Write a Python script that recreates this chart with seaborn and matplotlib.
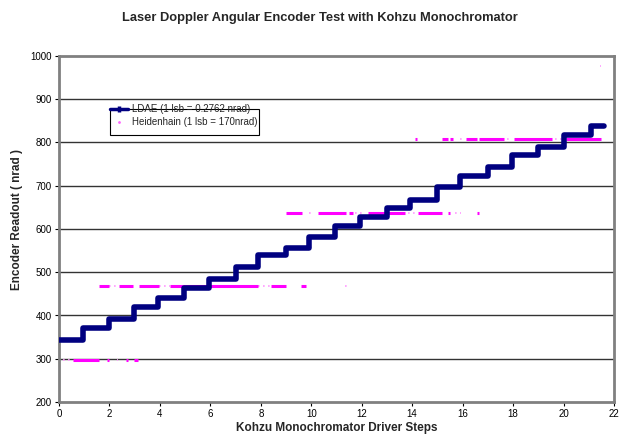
import matplotlib
matplotlib.use("Agg")
import matplotlib.pyplot as plt
from matplotlib.lines import Line2D
from matplotlib.patches import Rectangle
import seaborn as sns
import pandas as pd

# ---- data ----
ldae_steps = [0, 0.95, 1.98, 2.97, 3.92, 4.95, 5.94, 7.0, 7.9, 8.98, 9.9, 10.96,
              11.95, 13.0, 13.9, 15.0, 15.9, 17.0, 17.96, 19.0, 20.0, 21.1, 21.6]
ldae_levels = [343, 371, 392, 420, 440, 463, 484, 512, 540, 556, 582, 606,
               628, 649, 667, 697, 722, 744, 771, 790, 817, 838, 838]

# Heidenhain readings: solid runs (start, end, level)
heid_dense_start = [0.55, 1.92, 2.65, 2.97, 1.58, 2.37, 3.17, 4.4, 8.4, 9.58,
                    8.98, 10.25, 11.5, 12.23, 14.25, 15.4, 16.58,
                    14.13, 15.2, 15.5, 16.15, 16.66, 18.05, 20.1]
heid_dense_end = [1.6, 2.0, 2.75, 3.15, 1.97, 2.93, 3.96, 7.87, 8.98, 9.8,
                  9.62, 11.36, 11.67, 13.73, 15.2, 15.5, 16.66,
                  14.2, 15.4, 15.6, 16.58, 17.65, 19.55, 21.5]
heid_dense_level = [298, 298, 298, 298, 468, 468, 468, 468, 468, 468,
                    638, 638, 638, 638, 638, 638, 638,
                    808, 808, 808, 808, 808, 808, 808]
# sparse readings
heid_sparse_start = [0.15, 2.3, 2.0, 3.96, 7.87, 11.35, 9.9, 11.75, 13.85, 15.7,
                     15.9, 17.75, 19.65, 21.45]
heid_sparse_end = [0.55, 2.35, 2.3, 4.4, 8.4, 11.45, 10.1, 12.1, 14.1, 15.95,
                   16.05, 17.95, 19.95, 21.5]
heid_sparse_level = [298, 298, 468, 468, 468, 468, 638, 638, 638, 638,
                     808, 808, 808, 978]

x_ticks = list(range(0, 23, 2))
y_ticks = list(range(200, 1001, 100))

title = "Laser Doppler Angular Encoder Test with Kohzu Monochromator"
x_label = "Kohzu Monochromator Driver Steps"
y_label = "Encoder Readout ( nrad )"
ldae_name = "LDAE (1 lsb = 0.2762 nrad)"
heid_name = "Heidenhain (1 lsb = 170nrad)"

# ---- build frames ----
ldae_df = pd.DataFrame({"x": ldae_steps, "y": ldae_levels})

# ---- plot ----
sns.set_theme(style="white")
plt.rcParams["font.family"] = ["Liberation Sans", "DejaVu Sans"]

fig = plt.figure(figsize=(6.2, 4.36), dpi=100)
ax = fig.add_axes([59 / 620, 1 - 402 / 436, 555 / 620, 346 / 436])

for yv in y_ticks[1:-1]:
    ax.axhline(yv, color="#333333", lw=1.0, zorder=0)

ax.hlines(heid_sparse_level, heid_sparse_start, heid_sparse_end,
          colors="#ff99ff", lw=1.2, linestyles=(0, (1, 2)), zorder=2)
ax.hlines(heid_dense_level, heid_dense_start, heid_dense_end,
          colors="#ff00ff", lw=2.2, zorder=2)
sns.lineplot(data=ldae_df, x="x", y="y", estimator=None, sort=False,
             drawstyle="steps-post", color="#000080", lw=4.0, ax=ax,
             legend=False, zorder=3)

ax.set_xlim(0, 22)
ax.set_ylim(200, 1000)
ax.set_xticks(x_ticks)
ax.set_yticks(y_ticks)
ax.tick_params(axis="both", labelsize=7, length=3, width=0.8,
               direction="out", pad=2, colors="black")
ax.tick_params(left=True, bottom=True)
for sp in ax.spines.values():
    sp.set_color("#808080")
    sp.set_linewidth(2)

ax.set_title(title, fontsize=9.3, fontweight="bold", pad=25,
             x=(320 - 59) / 555)
ax.set_xlabel(x_label, fontsize=8.5, fontweight="bold", labelpad=2)
ax.set_ylabel(y_label, fontsize=8.5, fontweight="bold", labelpad=6)
ax.yaxis.set_label_coords(-0.064, (402 - 219) / 346)

# legend box (drawn as in the reference, its top edge running through row 1)
ax.add_patch(Rectangle(((110 - 59) / 555, (402 - 135) / 346),
                       (259 - 110) / 555, 26 / 346, transform=ax.transAxes,
                       facecolor="white", edgecolor="black", lw=0.8,
                       zorder=4))
handles = [
    Line2D([0], [0], color="#000080", lw=2.5, marker="|", markersize=5,
           markeredgewidth=2.5),
    Line2D([0], [0], color="#ff66ff", lw=0, marker=".", markersize=2),
]
leg = ax.legend(handles, [ldae_name, heid_name], loc="upper left",
                bbox_to_anchor=((110 - 59) / 555, (402 - 104) / 346),
                fontsize=7, frameon=False, borderpad=0, borderaxespad=0,
                handlelength=1.85, labelspacing=0.3, handletextpad=0.4)
leg.set_zorder(5)

fig.savefig("out.png", dpi=100)
